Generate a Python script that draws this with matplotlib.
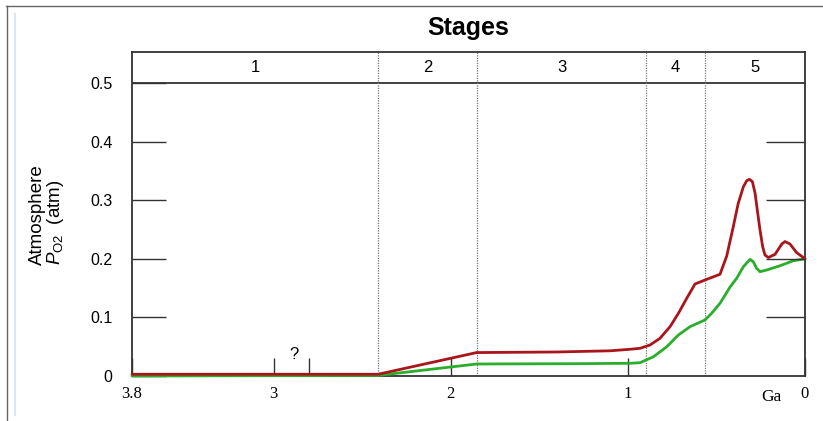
import numpy as np
import matplotlib as mpl
mpl.use("Agg")
import matplotlib.pyplot as plt
from matplotlib.lines import Line2D

plt.rcParams['font.family'] = ['Liberation Sans', 'DejaVu Sans']
plt.rcParams['mathtext.fontset'] = 'custom'
plt.rcParams['mathtext.rm'] = 'Liberation Sans'
plt.rcParams['mathtext.it'] = 'Liberation Sans:italic'

# age in Ga (billions of years ago), atmospheric pO2 in atm
ga_upper = [3.8, 2.41, 1.854, 1.4, 1.1, 0.988, 0.9315, 0.875, 0.819, 0.762, 0.715,
            0.668, 0.621, 0.565, 0.48, 0.442, 0.405, 0.377, 0.348, 0.329, 0.314,
            0.297, 0.282, 0.269, 0.254, 0.239, 0.226, 0.207, 0.169, 0.131, 0.113,
            0.085, 0.047, 0.0]
po2_upper = [0.003, 0.003, 0.040, 0.041, 0.043, 0.0456, 0.0473, 0.0529, 0.0643, 0.0842, 0.1069,
             0.1325, 0.157, 0.1638, 0.1736, 0.2048, 0.2548, 0.2947, 0.323, 0.3333, 0.3357,
             0.3317, 0.3121, 0.2826, 0.2491, 0.2207, 0.2065, 0.2022, 0.2077, 0.2253, 0.2295,
             0.2253, 0.2106, 0.2]

ga_lower = [3.8, 2.41, 1.854, 1.3, 0.988, 0.9315, 0.856, 0.781, 0.715, 0.649, 0.565,
            0.527, 0.48, 0.423, 0.386, 0.348, 0.31, 0.292, 0.273, 0.254, 0.216,
            0.141, 0.066, 0.0]
po2_lower = [0.0, 0.001, 0.0205, 0.021, 0.0217, 0.0227, 0.0328, 0.0498, 0.070, 0.0842, 0.0956,
             0.107, 0.124, 0.152, 0.1667, 0.1865, 0.1991, 0.195, 0.1837, 0.178, 0.1809,
             0.1882, 0.1967, 0.2]

stage_bounds = [3.8, 2.41, 1.852, 0.898, 0.565, 0.0]
stage_names = ['1', '2', '3', '4', '5']

xticks = [3.8, 3, 2, 1, 0]
xtick_labels = ['3.8', '3', '2', '1', '0']
yticks = [0, 0.1, 0.2, 0.3, 0.4, 0.5]
ytick_labels = ['0', '0.1', '0.2', '0.3', '0.4', '0.5']

fig = plt.figure(figsize=(8.23, 4.21), dpi=100)
ax = fig.add_axes([132/823, 45/421, 673/823, 324/421])
frame_col = '#333333'

ax.set_xlim(3.8, 0)
ax.set_ylim(0, 0.553)
for s in ax.spines.values():
    s.set_color(frame_col)
    s.set_linewidth(1.3)

# stage header band
ax.axhline(0.5, color=frame_col, lw=1.3)
for b in stage_bounds[1:-1]:
    ax.axvline(b, color='#777777', lw=0.9, ls=(0, (1, 1)))
for i, name in enumerate(stage_names):
    ax.text((stage_bounds[i] + stage_bounds[i+1]) / 2, 0.5265, name,
            ha='center', va='center', fontsize=12)

ax.plot(ga_lower, po2_lower, color='#2aae2a', lw=2, solid_joinstyle='round',
        solid_capstyle='round', clip_on=False, zorder=3)
ax.plot(ga_upper, po2_upper, color='#a8161c', lw=2, solid_joinstyle='round',
        solid_capstyle='round', clip_on=False, zorder=4)

ax.set_xticks(xticks)
ax.set_xticklabels(xtick_labels, family='Liberation Serif', fontsize=12)
ax.set_xticks([2.8], minor=True)
ax.tick_params(axis='x', which='both', direction='in', length=13, width=1, color=frame_col, pad=7)
ax.text(2.885, 0.036, '?', ha='center', va='center', fontsize=12)
ax.text(0.19, -0.036, 'Ga', ha='center', va='center', family='Liberation Serif', fontsize=12.5)

ax.set_yticks(yticks)
ax.set_yticklabels(ytick_labels, fontsize=11.5)
ax.tick_params(axis='y', direction='in', length=24.5, width=1, color=frame_col, pad=14)

ax_r = ax.twinx()
ax_r.set_ylim(0, 0.553)
ax_r.set_yticks([0.1, 0.2, 0.3, 0.4])
ax_r.set_yticklabels([])
ax_r.tick_params(axis='y', direction='in', length=28, width=1, color=frame_col)
for s in ax_r.spines.values():
    s.set_visible(False)

fig.text(37/823, 1 - 265/421, 'Atmosphere', rotation=90, ha='center', va='bottom', fontsize=13.5)
fig.text(56/823, 1 - 265/421, r'$P_{\mathrm{O2}}$  (atm)', rotation=90, ha='center', va='bottom', fontsize=13.5)

fig.text(468/823, 1 - 28/421, 'Stages', ha='center', va='center', fontsize=18, fontweight='bold')

# page border lines
fig.add_artist(Line2D([6/823, 1], [1 - 5.5/421] * 2, color='#666666', lw=1))
fig.add_artist(Line2D([6.5/823] * 2, [0, 1 - 5.5/421], color='#666666', lw=1))
fig.add_artist(Line2D([15/823] * 2, [6/421, 1 - 14/421], color='#dde5ef', lw=1.5))

fig.savefig('out.png', dpi=100)
